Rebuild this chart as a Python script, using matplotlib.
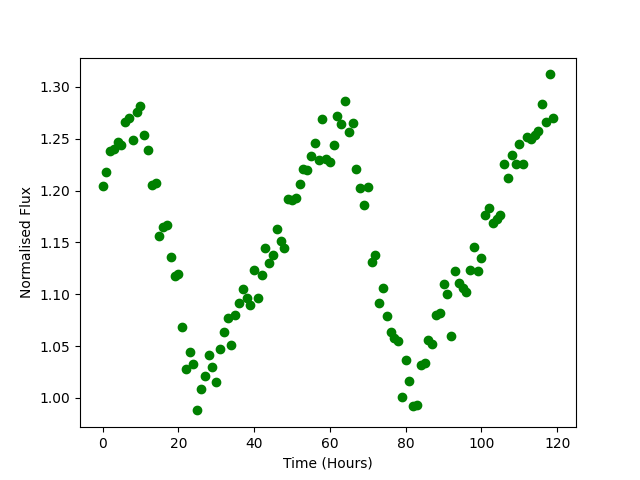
import matplotlib
matplotlib.use('Agg')
import matplotlib.pyplot as plt

time = list(range(120))
flux = [1.204, 1.218, 1.238, 1.240, 1.247, 1.244, 1.266, 1.270, 1.249, 1.276,
        1.282, 1.254, 1.239, 1.205, 1.207, 1.156, 1.165, 1.167, 1.136, 1.118,
        1.120, 1.068, 1.028, 1.044, 1.033, 0.988, 1.009, 1.021, 1.041, 1.030,
        1.015, 1.047, 1.064, 1.077, 1.051, 1.080, 1.092, 1.105, 1.096, 1.090,
        1.123, 1.096, 1.119, 1.145, 1.130, 1.138, 1.163, 1.151, 1.145, 1.192,
        1.191, 1.193, 1.206, 1.221, 1.220, 1.233, 1.246, 1.229, 1.269, 1.230,
        1.228, 1.244, 1.272, 1.264, 1.286, 1.256, 1.265, 1.221, 1.202, 1.186,
        1.203, 1.131, 1.138, 1.092, 1.106, 1.079, 1.064, 1.058, 1.055, 1.001,
        1.037, 1.016, 0.992, 0.993, 1.032, 1.034, 1.056, 1.052, 1.080, 1.082,
        1.110, 1.100, 1.060, 1.122, 1.111, 1.106, 1.102, 1.123, 1.146, 1.122,
        1.135, 1.176, 1.183, 1.169, 1.173, 1.176, 1.226, 1.212, 1.234, 1.226,
        1.245, 1.226, 1.252, 1.250, 1.254, 1.257, 1.283, 1.266, 1.312, 1.270]

plt.figure(figsize=(6.4, 4.8))
plt.plot(time, flux, 'go')
plt.xlabel('Time (Hours)')
plt.ylabel('Normalised Flux')
plt.savefig('out.png', dpi=100)
